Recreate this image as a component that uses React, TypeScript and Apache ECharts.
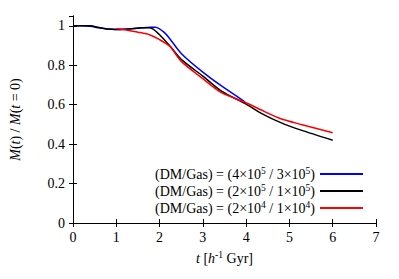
import React, { useEffect, useRef } from "react";
import * as echarts from "echarts";

const blueT = [0, 0.2, 0.4, 0.6, 0.8, 1.0, 1.2, 1.4, 1.6, 1.8, 1.9, 2.0, 2.1, 2.2, 2.5, 3.0, 3.43, 3.97];
const blueY = [1.0, 1.0, 0.998, 0.99, 0.984, 0.982, 0.983, 0.986, 0.99, 0.993, 0.993, 0.985, 0.968, 0.945, 0.86, 0.765, 0.695, 0.615];

const blackT = [0, 0.2, 0.4, 0.6, 0.8, 1.0, 1.2, 1.4, 1.6, 1.75, 1.85, 2.0, 2.24, 2.5, 3.0, 3.43, 4.0, 4.35, 4.8, 5.27, 6.0];
const blackY = [1.0, 1.0, 1.0, 0.992, 0.984, 0.982, 0.983, 0.986, 0.99, 0.99, 0.984, 0.955, 0.898, 0.83, 0.745, 0.669, 0.603, 0.556, 0.509, 0.471, 0.42];

const redT = [1.0, 1.15, 1.32, 1.5, 1.78, 2.0, 2.24, 2.5, 3.0, 3.43, 4.0, 4.35, 4.8, 5.27, 6.0];
const redY = [0.985, 0.982, 0.975, 0.968, 0.954, 0.93, 0.895, 0.82, 0.732, 0.661, 0.61, 0.573, 0.529, 0.5, 0.458];

const seriesNames = ["s1", "s2", "s3"];
const legendParts: [string, string, string, string][] = [
  ["4", "5", "3", "5"],
  ["2", "5", "1", "5"],
  ["2", "4", "1", "4"],
];
const colors = ["#0000ff", "#000000", "#ff0000"];

const xTicks = { min: 0, max: 7, interval: 1 };
const yTicks = { min: 0, max: 1.05, interval: 0.2 };

const FONT = "'Liberation Serif', 'Times New Roman', serif";

function pairs(t: number[], y: number[]) {
  return t.map((v, i) => [v, y[i]]);
}

export default function App() {
  const ref = useRef<HTMLDivElement>(null);
  useEffect(() => {
    if (!ref.current) return;
    const chart = echarts.init(ref.current, undefined, { renderer: "svg" });
    const rich = {
      n: { fontFamily: FONT, fontSize: 14, color: "#000", lineHeight: 16 },
      i: { fontFamily: FONT, fontSize: 14, color: "#000", fontStyle: "italic", lineHeight: 16 },
      s: { fontFamily: FONT, fontSize: 9.5, color: "#000", lineHeight: 9, verticalAlign: "top" },
    };
    const axisCommon = {
      axisLine: { show: true, lineStyle: { color: "#000", width: 1 } },
      axisTick: { show: true, inside: true, length: 4, lineStyle: { color: "#000" } },
      splitLine: { show: false },
    };
    const data = [pairs(blueT, blueY), pairs(blackT, blackY), pairs(redT, redY)];
    chart.setOption({
      animation: false,
      textStyle: { fontFamily: FONT },
      grid: { left: 70, right: 23, top: 16, bottom: 56, containLabel: false },
      legend: {
        data: seriesNames,
        orient: "vertical",
        align: "right",
        right: 36,
        top: 166,
        padding: 0,
        itemWidth: 43,
        itemHeight: 2,
        itemGap: 2,
        icon: "rect",
        formatter: (name: string) => {
          const p = legendParts[seriesNames.indexOf(name)];
          return `{n|(DM/Gas) = (${p[0]}×10}{s|${p[1]}}{n| / ${p[2]}×10}{s|${p[3]}}{n|)}`;
        },
        textStyle: { rich, fontFamily: FONT, fontSize: 14, color: "#000" },
      },
      xAxis: [
        {
          type: "value",
          ...xTicks,
          ...axisCommon,
          position: "bottom",
          name: "{i|t}{n| [}{i|h}{s|-1}{n| Gyr]}",
          nameLocation: "middle",
          nameGap: 27,
          nameTextStyle: { rich, fontFamily: FONT },
          axisLabel: { fontFamily: FONT, fontSize: 14, color: "#000", margin: 7 },
        },
        {
          type: "value",
          ...xTicks,
          ...axisCommon,
          position: "top",
          axisLabel: { show: false },
        },
      ],
      yAxis: [
        {
          type: "value",
          ...yTicks,
          ...axisCommon,
          position: "left",
          name: "{i|M}{n|(}{i|t}{n|) / }{i|M}{n|(}{i|t}{n| = 0)}",
          nameLocation: "middle",
          nameRotate: 90,
          nameGap: 50,
          nameTextStyle: { rich, fontFamily: FONT },
          axisLabel: {
            fontFamily: FONT,
            fontSize: 14,
            color: "#000",
            margin: 8,
            showMaxLabel: false,
            formatter: (v: number) => String(Math.round(v * 10) / 10),
          },
        },
        {
          type: "value",
          ...yTicks,
          ...axisCommon,
          position: "right",
          axisLabel: { show: false },
        },
      ],
      series: data.map((d, i) => ({
        name: seriesNames[i],
        type: "line",
        data: d,
        smooth: 0.25,
        showSymbol: false,
        symbol: "none",
        color: colors[i],
        lineStyle: { color: colors[i], width: 1.5 },
        itemStyle: { color: colors[i] },
      })),
    });
    return () => chart.dispose();
  }, []);
  return <div ref={ref} style={{ width: 399, height: 279, position: "absolute", left: 0, top: 0 }} />;
}
